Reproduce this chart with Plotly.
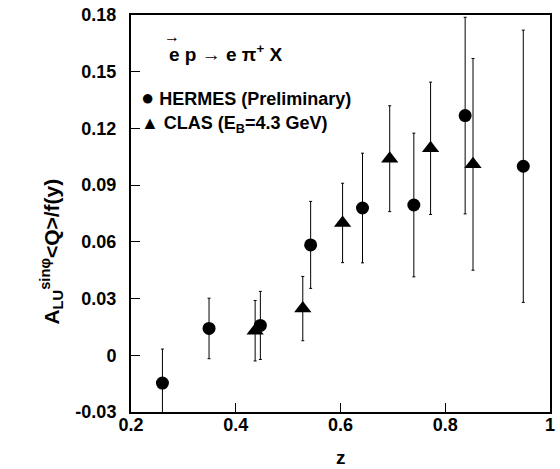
import plotly.graph_objects as go

# HERMES (Preliminary)
hermes_z = [0.26, 0.349, 0.447, 0.543, 0.642, 0.740, 0.838, 0.949]
hermes_a = [-0.0147, 0.0142, 0.0158, 0.0584, 0.0779, 0.0795, 0.1268, 0.100]
hermes_err = [0.018, 0.016, 0.018, 0.023, 0.029, 0.038, 0.052, 0.072]

# CLAS (E_B = 4.3 GeV)
clas_z = [0.437, 0.528, 0.604, 0.694, 0.772, 0.853]
clas_a = [0.013, 0.0247, 0.070, 0.104, 0.1095, 0.101]
clas_err = [0.016, 0.017, 0.021, 0.028, 0.035, 0.056]

x_ticks = [0.2, 0.4, 0.6, 0.8, 1.0]
x_ticklabels = ["0.2", "0.4", "0.6", "0.8", "1"]
y_ticks = [-0.03, 0, 0.03, 0.06, 0.09, 0.12, 0.15, 0.18]
y_ticklabels = ["-0.03", "0", "0.03", "0.06", "0.09", "0.12", "0.15", "0.18"]

FONT = "Liberation Sans, Arial, sans-serif"

fig = go.Figure()
fig.add_trace(go.Scatter(
    x=hermes_z, y=hermes_a, mode="markers",
    marker=dict(symbol="circle", size=13, color="black"),
    error_y=dict(type="data", array=hermes_err, color="black", thickness=1, width=1.5),
    showlegend=False))
fig.add_trace(go.Scatter(
    x=clas_z, y=clas_a, mode="markers",
    marker=dict(symbol="triangle-up", size=15, color="black"),
    error_y=dict(type="data", array=clas_err, color="black", thickness=1, width=1.5),
    showlegend=False))

axis_common = dict(
    showline=True, linecolor="black", linewidth=2, mirror=True,
    ticks="inside", tickcolor="black", tickwidth=1, ticklen=9,
    showgrid=False, zeroline=False, ticklabeloverflow="allow",
    tickfont=dict(family=FONT, size=18, color="black", weight="bold"),
)
fig.update_xaxes(range=[0.2, 1.0], tickvals=x_ticks, ticktext=x_ticklabels,
                 ticklabelstandoff=-5, **axis_common)
fig.update_yaxes(range=[-0.03, 0.18], tickvals=y_ticks, ticktext=y_ticklabels,
                 ticklabelstandoff=9, **axis_common)

bold = dict(family=FONT, color="black", weight="bold")
fig.add_annotation(text="z", xref="paper", yref="paper", x=0.5, y=-0.115,
                   xanchor="center", yanchor="middle", showarrow=False,
                   font=dict(size=19, **bold))
fig.add_annotation(text="A<sub>LU</sub><sup>sinφ</sup>&lt;Q&gt;/f(y)", xref="paper", yref="paper",
                   x=-0.19, y=0.405, xanchor="center", yanchor="middle", textangle=-90,
                   showarrow=False, font=dict(size=21, **bold))
fig.add_annotation(text="e p → e π<sup>+</sup> X", xref="paper", yref="paper",
                   x=0.087, y=0.905, xanchor="left", yanchor="middle", showarrow=False,
                   font=dict(size=19, **bold))
fig.add_annotation(text="→", xref="paper", yref="paper",
                   x=0.097, y=0.945, xanchor="center", yanchor="middle", showarrow=False,
                   font=dict(size=16, **bold))
fig.add_annotation(text="<span style='font-size:22px'>●</span> HERMES (Preliminary)",
                   xref="paper", yref="paper", x=0.02, y=0.7925,
                   xanchor="left", yanchor="middle", showarrow=False,
                   font=dict(size=18, **bold))
fig.add_annotation(text="<span style='font-size:18px'>▲</span> CLAS (E<sub>B</sub>=4.3 GeV)",
                   xref="paper", yref="paper", x=0.02, y=0.725,
                   xanchor="left", yanchor="middle", showarrow=False,
                   font=dict(size=18, **bold))

fig.update_layout(
    width=560, height=469,
    margin=dict(l=131, r=5, t=12, b=57),
    plot_bgcolor="white", paper_bgcolor="white",
    font=dict(family=FONT, color="black"),
)
# Remove the default 8px page margin so the figure sits at the window origin.
fig.write_html("out.html",
               config={"displayModeBar": False},
               post_script="document.body.style.margin='0';document.body.style.overflow='hidden';")
